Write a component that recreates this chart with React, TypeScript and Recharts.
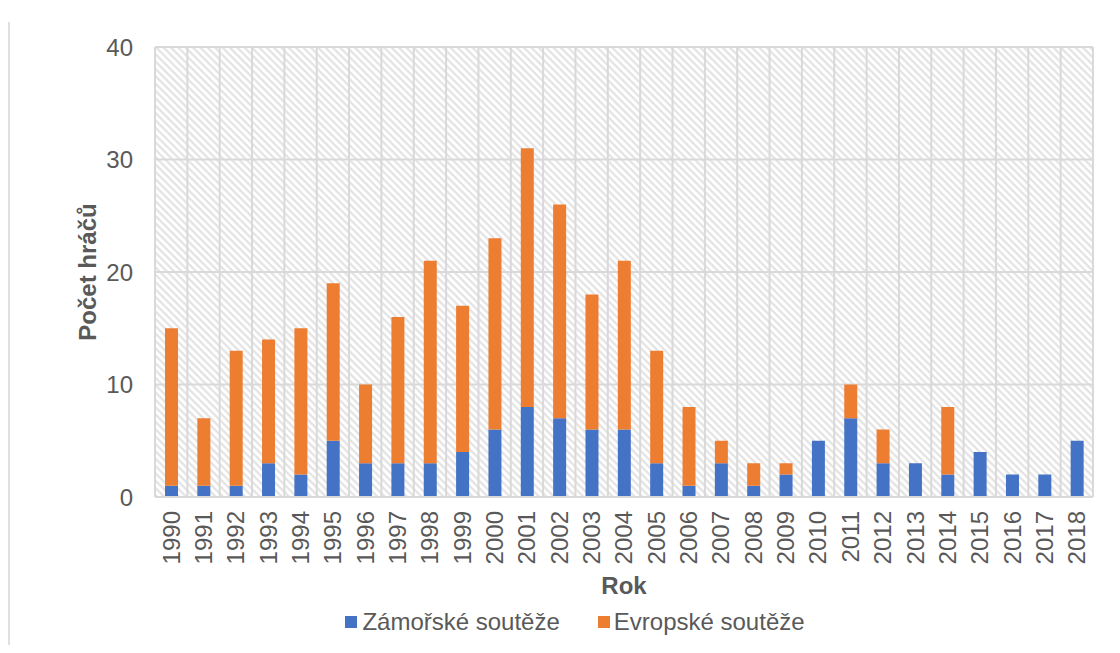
import React from 'react';
import { BarChart, Bar, XAxis, YAxis, CartesianGrid, Legend } from 'recharts';

const years = ['1990','1991','1992','1993','1994','1995','1996','1997','1998','1999','2000','2001','2002','2003','2004','2005','2006','2007','2008','2009','2010','2011','2012','2013','2014','2015','2016','2017','2018'];
const zamorske = [1,1,1,3,2,5,3,3,3,4,6,8,7,6,6,3,1,3,1,2,5,7,3,3,2,4,2,2,5];
const evropske = [14,6,12,11,13,14,7,13,18,13,17,23,19,12,15,10,7,2,2,1,0,3,3,0,6,0,0,0,0];
const yTicks = [0, 10, 20, 30, 40];

const data = years.map((y, i) => ({ year: y, zam: zamorske[i], evr: evropske[i] }));

const FONT = 'Liberation Sans, Arial, sans-serif';
const TXT = '#595959';
const GRID = '#d9d9d9';

const XTick = (props: any) => {
  const { x, y, payload } = props;
  return (
    <g transform={`translate(${x},${y + 6})`}>
      <text transform="rotate(-90)" x={0} y={0} dy="0.35em" textAnchor="end" fill={TXT} fontSize={24} fontFamily={FONT}>
        {payload.value}
      </text>
    </g>
  );
};

const YLabel = (props: any) => {
  const { viewBox } = props;
  const cx = viewBox.x + 80;
  const cy = viewBox.y + viewBox.height / 2;
  return (
    <text transform={`rotate(-90, ${cx}, ${cy})`} x={cx} y={cy} dy="0.35em" textAnchor="middle" fill={TXT} fontSize={24} fontWeight="bold" fontFamily={FONT}>
      Počet hráčů
    </text>
  );
};

const LegendContent = () => (
  <div style={{ height: 30, display: 'flex', justifyContent: 'center', alignItems: 'center', paddingLeft: 49, fontFamily: FONT, fontSize: 24, color: TXT }}>
    <span style={{ display: 'inline-block', width: 12, height: 12, background: '#4472C4', marginRight: 5 }} />
    <span style={{ marginRight: 38 }}>Zámořské soutěže</span>
    <span style={{ display: 'inline-block', width: 12, height: 12, background: '#ED7D31', marginRight: 4 }} />
    <span>Evropské soutěže</span>
  </div>
);

const vGen = (p: any) => {
  const { offset } = p;
  const n = years.length;
  const pts: number[] = [];
  for (let i = 0; i <= n; i++) pts.push(offset.left + (i * offset.width) / n);
  return pts;
};

export default function App() {
  return (
    <div style={{ position: 'relative', width: 1104, height: 637 }}>
      <svg width={0} height={0} style={{ position: 'absolute' }}>
        <defs>
          <pattern id="hatch" patternUnits="userSpaceOnUse" width={5.2} height={5.2} patternTransform="rotate(45)">
            <rect x={0} y={0} width={5.2} height={5.2} fill="#ffffff" />
            <rect x={0} y={0} width={5.2} height={2.2} fill="#e3e3e3" />
          </pattern>
        </defs>
      </svg>
      <div style={{ position: 'absolute', left: 0, top: 14, width: 2, height: 640, background: '#e0e0e0' }} />
      <BarChart
        width={1104}
        height={637}
        data={data}
        margin={{ top: 39, right: 19, left: 0, bottom: 8 }}
        barSize={13}
      >
        <CartesianGrid
          fill="url(#hatch)"
          stroke={GRID}
          strokeWidth={2}
          horizontal={true}
          vertical={true}
          verticalCoordinatesGenerator={vGen}
        />
        <XAxis
          dataKey="year"
          height={110}
          tickLine={false}
          axisLine={{ stroke: GRID, strokeWidth: 2 }}
          interval={0}
          tick={<XTick />}
          label={{ value: 'Rok', position: 'insideBottom', offset: 13, fill: TXT, fontSize: 24, fontWeight: 'bold', fontFamily: FONT }}
        />
        <YAxis
          width={147}
          domain={[0, 40]}
          ticks={yTicks}
          tickLine={false}
          axisLine={false}
          tickMargin={16}
          tick={{ fill: TXT, fontSize: 24, fontFamily: FONT }}
          label={<YLabel />}
        />
        <Legend verticalAlign="bottom" content={<LegendContent />} wrapperStyle={{ height: 30 }} />
        <Bar dataKey="zam" name="Zámořské soutěže" stackId="a" fill="#4472C4" isAnimationActive={false} />
        <Bar dataKey="evr" name="Evropské soutěže" stackId="a" fill="#ED7D31" isAnimationActive={false} />
      </BarChart>
    </div>
  );
}
